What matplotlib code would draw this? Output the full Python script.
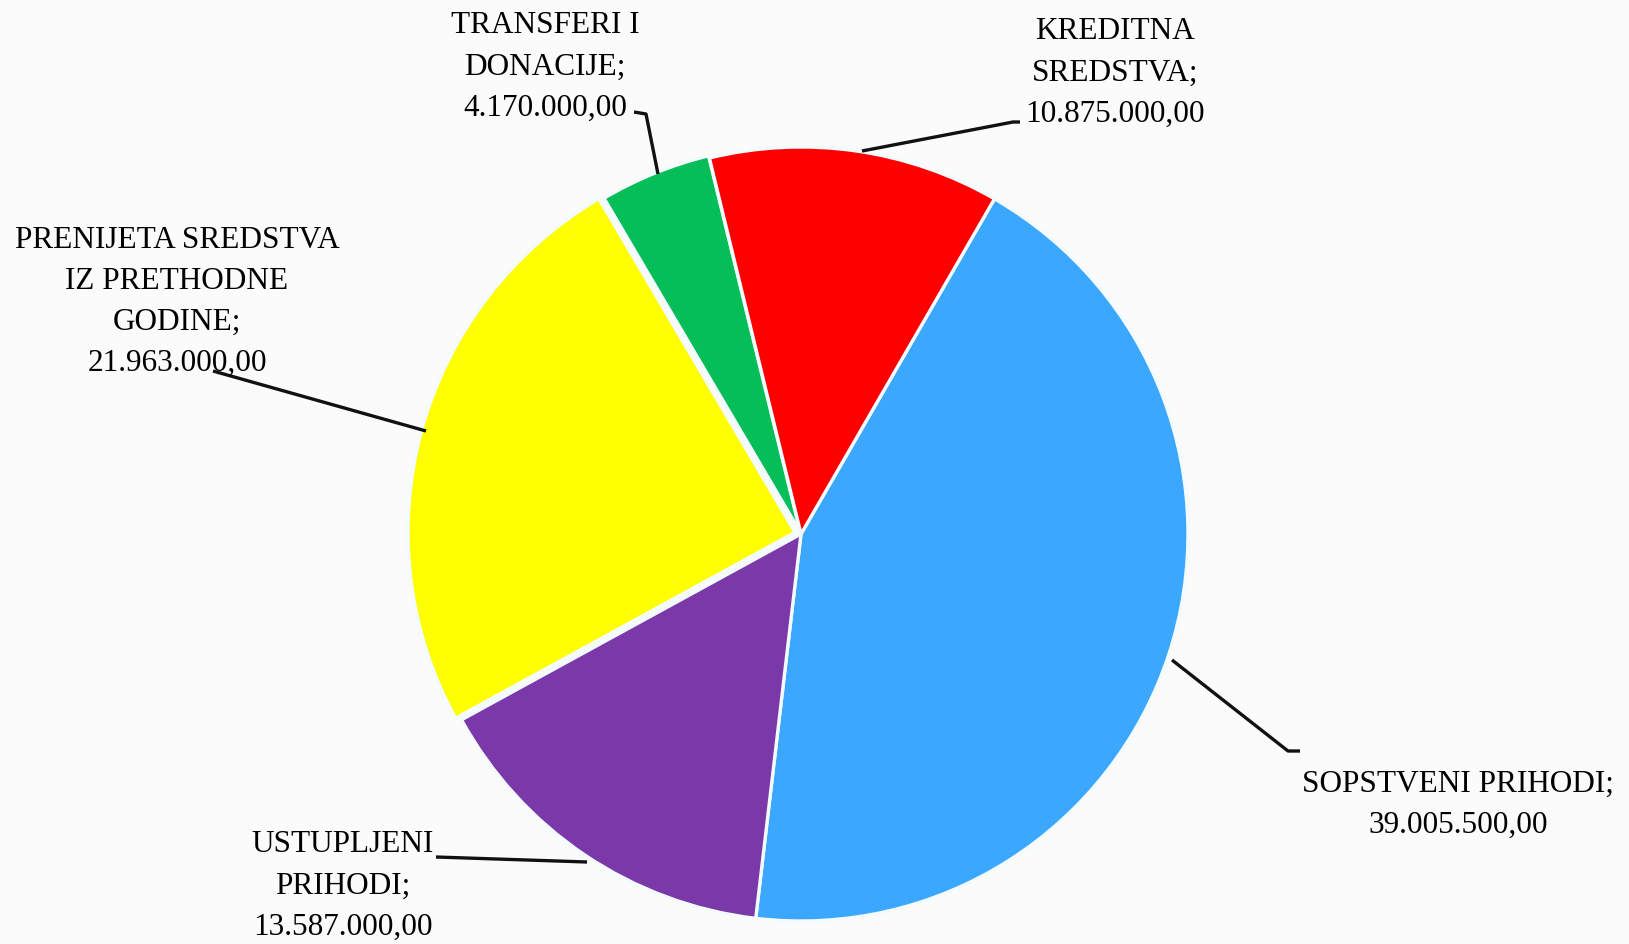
import matplotlib
matplotlib.use("Agg")
import matplotlib.pyplot as plt

categories = ["SOPSTVENI PRIHODI", "USTUPLJENI\nPRIHODI", "PRENIJETA SREDSTVA\nIZ PRETHODNE\nGODINE",
              "TRANSFERI I\nDONACIJE", "KREDITNA\nSREDSTVA"]
values = [39005500.00, 13587000.00, 21963000.00, 4170000.00, 10875000.00]
value_labels = ["39.005.500,00", "13.587.000,00", "21.963.000,00", "4.170.000,00", "10.875.000,00"]
colors = ["#3BA7FF", "#7A38A8", "#FFFF00", "#05BE57", "#FF0000"]
explode_frac = [0.0, 0.0, 0.016, 0.006, 0.0]

W, H = 1629, 944
fig = plt.figure(figsize=(W / 100, H / 100), dpi=100)
fig.patch.set_facecolor("#FBFBFB")
ax = fig.add_axes([0, 0, 1, 1])

cx, cy, R = 801, H - 534, 387
# matplotlib's explode is in data units, so scale it by the radius
explode = [e * R for e in explode_frac]
wedges, _ = ax.pie(values, colors=colors, startangle=60, counterclock=False,
                   explode=explode, center=(cx, cy), radius=R, frame=True,
                   wedgeprops=dict(edgecolor="#F4FBFF", linewidth=2.4))
for w in wedges:
    w.set_joinstyle("miter")
ax.set_xlim(0, W)
ax.set_ylim(0, H)
ax.set_aspect("equal")
ax.axis("off")

font = dict(family="Liberation Serif", fontsize=22.5, color="black", ha="center",
            va="center", linespacing=1.55)

# label block centers and leader lines (pixel coords, y measured from top)
label_pos = [(1458, 805), (343, 886), (177, 302), (545, 67), (1115, 73)]
leaders = [
    [(1172, 660), (1288, 751), (1300, 751)],
    [(436, 857), (587, 862)],
    [(213, 371), (426, 431)],
    [(634, 112), (646, 114), (658, 174)],
    [(862, 151), (1013, 122), (1020, 122)],
]

for cat, vl, (lx, ly), pts in zip(categories, value_labels, label_pos, leaders):
    ax.text(lx, H - ly, cat + ";\n" + vl, **font)
    xs = [p[0] for p in pts]
    ys = [H - p[1] for p in pts]
    ax.plot(xs, ys, color="#111111", lw=2.4, solid_capstyle="butt")

fig.savefig("out.png", dpi=100, facecolor=fig.get_facecolor())
